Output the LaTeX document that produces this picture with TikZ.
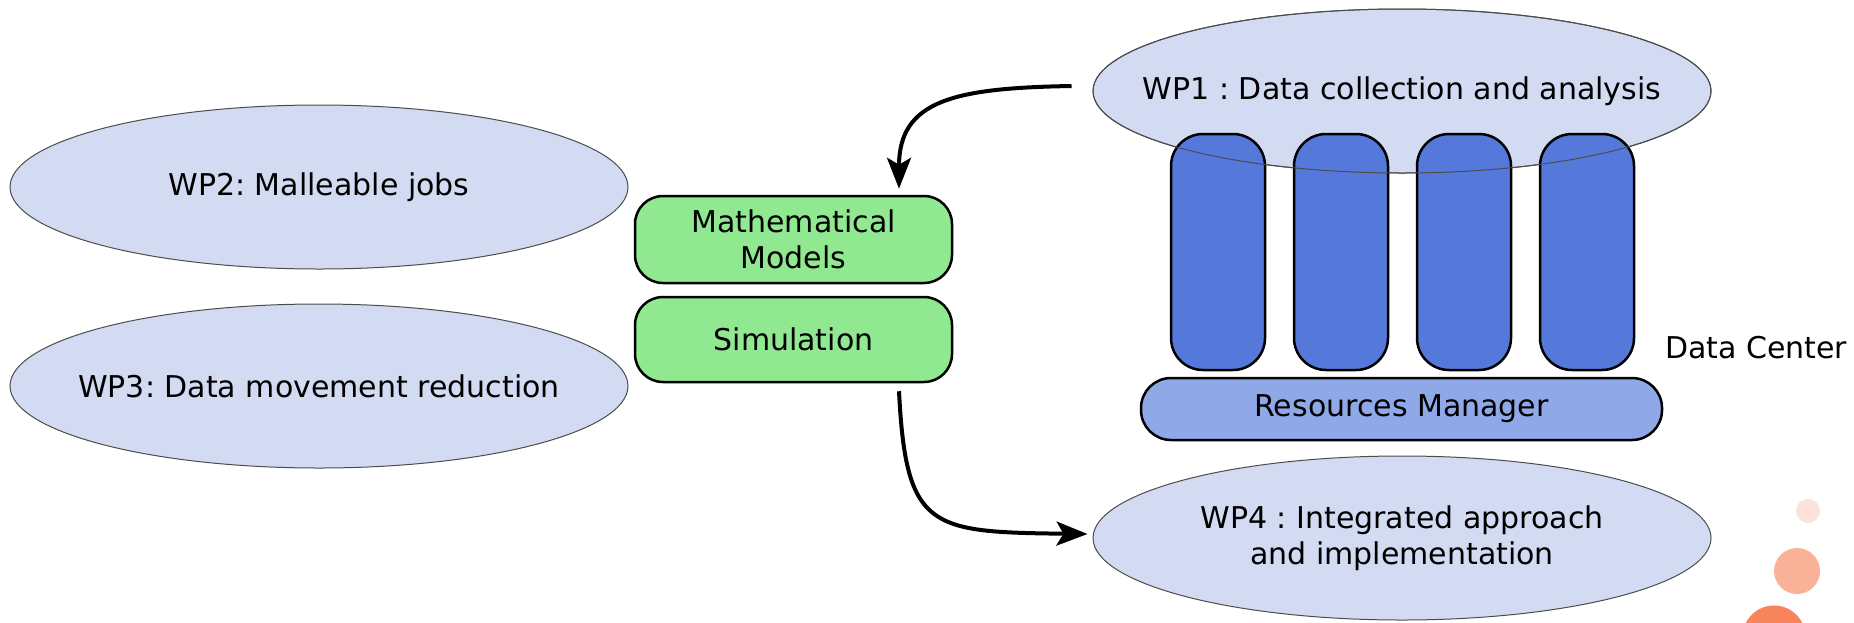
\documentclass[tikz,border=0pt]{standalone}
\usepackage{fontspec}
\setmainfont{DejaVu Sans}
\frenchspacing
\usetikzlibrary{shapes.geometric,arrows.meta,calc}
\definecolor{wpfill}{RGB}{211,219,243}
\definecolor{pillarfill}{RGB}{85,121,219}
\definecolor{rmfill}{RGB}{143,168,232}
\definecolor{greenfill}{RGB}{144,232,144}
\definecolor{orA}{RGB}{251,227,218}
\definecolor{orB}{RGB}{249,177,151}
\definecolor{orC}{RGB}{247,132,90}
\tikzset{
  wp/.style={ellipse, fill=wpfill, draw=black!70, line width=1pt, minimum width=618pt, minimum height=164pt, inner sep=0pt},
  wptext/.style={inner sep=0pt, align=center, font=\fontsize{30}{36}\selectfont},
  pillar/.style={rectangle, rounded corners=32pt, fill=pillarfill, draw=black, line width=2.5pt, minimum width=94pt, minimum height=236pt, inner sep=0pt},
  rmbox/.style={rectangle, rounded corners=30pt, fill=rmfill, draw=black, line width=2.5pt, minimum width=521pt, minimum height=62pt, inner sep=0pt, font=\fontsize{30}{36}\selectfont},
  greenbox/.style={rectangle, rounded corners=28pt, fill=greenfill, draw=black, line width=2.5pt, minimum width=317pt, inner sep=0pt, align=center, font=\fontsize{30}{36}\selectfont},
  lbl/.style={inner sep=0pt, anchor=west, font=\fontsize{30}{36}\selectfont},
  flow/.style={line width=4pt, -{Stealth[length=31pt,width=24pt,inset=7pt]}},
  dot/.style={circle, inner sep=0pt, draw=none}
}
\begin{document}
\begin{tikzpicture}[x=1pt,y=-1pt]
\useasboundingbox (0,0) rectangle (1854,622);
% left ellipses
\node[wp] (wp2) at (319,187) {};
\node[wptext] (wp2t) at (wp2) {WP2: Malleable jobs};
\node[wp] (wp3) at (319,386) {};
\node[wptext] (wp3t) at (wp3) {WP3: Data movement reduction};
% WP1 and data center
\node[wp] (wp1) at (1402,91) {};
\node[wptext] (wp1t) at (wp1) {WP1 : Data collection and analysis};
\node[pillar] (p1) at (1218,252) {};
\node[pillar] (p2) at (1341,252) {};
\node[pillar] (p3) at (1464,252) {};
\node[pillar] (p4) at (1587,252) {};
\draw[draw=black!70, line width=1pt] (wp1.center) ellipse [x radius=309pt, y radius=82pt];
\node[lbl] (dc) at (1665,348) {Data Center};
\node[rmbox] (rm) at (1401.5,409) {Resources Manager};
% WP4
\node[wp] (wp4) at (1402,538) {};
\node[wptext] (wp4t) at (wp4) {WP4 : Integrated approach\\and implementation};
% green boxes
\node[greenbox, minimum height=87pt] (math) at (793.5,239.5) {Mathematical\\Models};
\node[greenbox, minimum height=85pt] (sim) at (793.5,339.5) {Simulation};
% arrows
\coordinate (a1s) at ($(wp1.west)+(-21,-5)$);
\coordinate (a1e) at ($(math.north)+(105.5,-6)$);
\draw[flow] (a1s) .. controls (955,88) and (899,100) .. (a1e);
\coordinate (a2s) at ($(sim.south)+(105.5,8)$);
\coordinate (a2e) at ($(wp4.west)+(-5,-4)$);
\draw[flow] (a2s) .. controls (906,530) and (930,532) .. (a2e);
% decorative dots
\node[dot, fill=orA, minimum size=24pt] (d1) at (1808,511) {};
\node[dot, fill=orB, minimum size=46pt] (d2) at (1797,571) {};
\node[dot, fill=orC, minimum size=63pt] (d3) at (1774,637) {};
\end{tikzpicture}
\end{document}
